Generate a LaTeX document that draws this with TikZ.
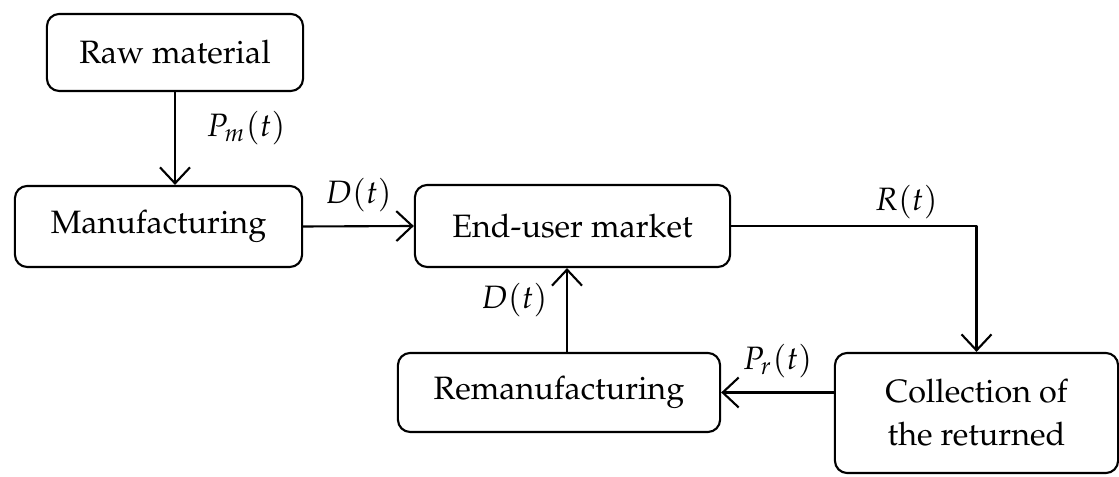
\documentclass[tikz,border=0pt]{standalone}
\usepackage[T1]{fontenc}
\usepackage{mathpazo}
\usetikzlibrary{arrows.meta}
\tikzset{
  block/.style={draw, rounded corners=3.5pt, line width=0.6pt, align=center, inner sep=2pt},
  flow/.style={line width=0.6pt, -{Straight Barb[length=1.6mm,width=3mm]}},
  lab/.style={inner sep=1pt}
}
\begin{document}
\begin{tikzpicture}[x=0.01cm, y=-0.01cm, font=\fontsize{9.2}{12.2}\selectfont, line join=round, line cap=round]
\useasboundingbox (0,0) rectangle (1119,477);
\node[block, minimum width=2.56cm, minimum height=0.77cm] (raw) at (175,52.5) {Raw material};
\node[block, minimum width=2.87cm, minimum height=0.81cm] (manuf) at (158.5,226.5) {Manufacturing};
\node[block, minimum width=3.15cm, minimum height=0.82cm] (market) at (572.5,226) {End-user market};
\node[block, minimum width=3.22cm, minimum height=0.79cm] (reman) at (559,392.5) {Remanufacturing};
\node[block, minimum width=2.83cm, minimum height=1.20cm] (coll) at (976.5,413) {Collection of\\the returned};
% flows
\draw[flow] (raw.south) -- (raw.south |- manuf.north) node[lab, midway, right=0.27cm, yshift=0.1cm] {$P_m(t)$};
\draw[flow] (manuf.east) -- (market.west) node[lab, midway, above=0.1cm] {$D(t)$};
\draw[flow] (market.east) -| (coll.north) node[lab, pos=0.357, above=0.02cm] {$R(t)$};
\draw[flow] (reman.east -| coll.west) -- (reman.east) node[lab, pos=0.5, above=0.1cm] {$P_r(t)$};
\draw[flow] (reman.north -| 567,0) -- (market.south -| 567,0) node[lab, midway, left=0.15cm, yshift=0.1cm] {$D(t)$};
\end{tikzpicture}
\end{document}
